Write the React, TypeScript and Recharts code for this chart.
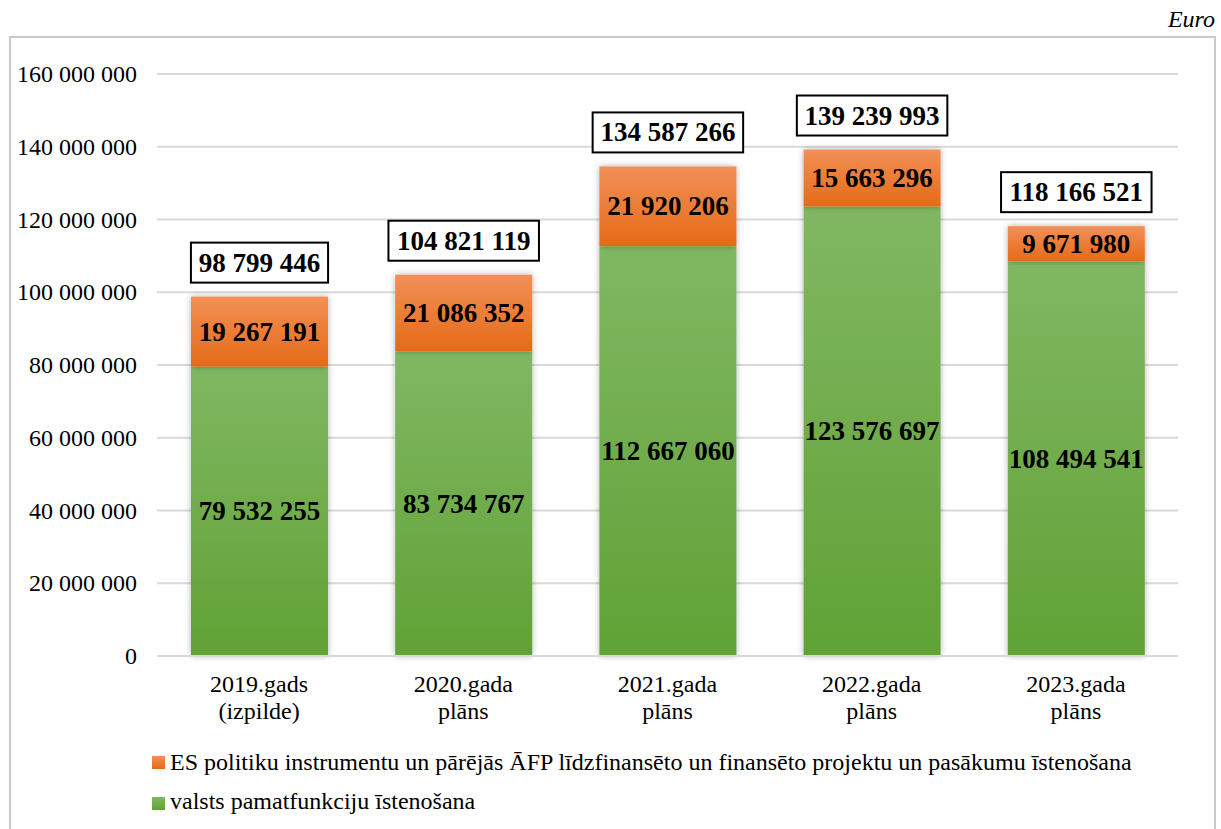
import React from 'react';
import { BarChart, Bar, XAxis, YAxis, CartesianGrid, Legend, LabelList } from 'recharts';

const categories = ['2019.gads\n(izpilde)', '2020.gada\nplāns', '2021.gada\nplāns', '2022.gada\nplāns', '2023.gada\nplāns'];
const coreValues = [79532255, 83734767, 112667060, 123576697, 108494541];
const euValues = [19267191, 21086352, 21920206, 15663296, 9671980];
const totalValues = [98799446, 104821119, 134587266, 139239993, 118166521];
const yTicks = [0, 20000000, 40000000, 60000000, 80000000, 100000000, 120000000, 140000000, 160000000];

const euName = 'ES politiku instrumentu un pārējās ĀFP līdzfinansēto un finansēto projektu un pasākumu īstenošana';
const coreName = 'valsts pamatfunkciju īstenošana';

const data = categories.map((c, i) => ({
  name: c,
  core: coreValues[i],
  eu: euValues[i],
  total: totalValues[i],
}));

const FONT = 'Liberation Serif';
const FS = 24;
const fmt = (n: number) => String(n).replace(/\B(?=(\d{3})+(?!\d))/g, ' ');

const GradBar = (props: any) => {
  const { x, y, width, height, gradId } = props;
  if (!height || height <= 0) return null;
  return <rect x={x} y={y} width={width} height={height} fill={`url(#${gradId})`} filter="url(#barShadow)" />;
};

const CenterLabel = (props: any) => {
  const { x, y, width, height, value } = props;
  return (
    <text x={x + width / 2} y={y + height / 2} textAnchor="middle" dominantBaseline="central"
      fontFamily={FONT} fontWeight="bold" fontSize={27} fill="#000">
      {fmt(value)}
    </text>
  );
};

const TotalLabel = (props: any) => {
  const { x, y, width, value } = props;
  const s = fmt(value);
  let em = 0;
  for (const ch of s) em += ch === ' ' ? 0.25 : 0.5;
  const w = em * 26.7 + 17;
  const cx = x + width / 2;
  const bottom = y - 14;
  return (
    <g>
      <rect x={cx - w / 2} y={bottom - 40} width={w} height={40} fill="#fff" stroke="#000" strokeWidth={2} />
      <text x={cx} y={bottom - 20} textAnchor="middle" dominantBaseline="central"
        fontFamily={FONT} fontWeight="bold" fontSize={27} fill="#000">
        {s}
      </text>
    </g>
  );
};

const CategoryTick = (props: any) => {
  const { x, y, payload } = props;
  const lines = String(payload.value).split('\n');
  return (
    <g>
      {lines.map((l, i) => (
        <text key={i} x={x} y={y + 28 + i * 27} textAnchor="middle" fontFamily={FONT} fontSize={FS} fill="#000">
          {l}
        </text>
      ))}
    </g>
  );
};

const YTick = (props: any) => {
  const { x, y, payload } = props;
  return (
    <text x={x} y={y} textAnchor="end" dominantBaseline="central" fontFamily={FONT} fontSize={FS} fill="#000">
      {fmt(payload.value)}
    </text>
  );
};

const LegendContent = () => (
  <div style={{ position: 'relative', width: 1221, height: 80, fontFamily: FONT, fontSize: FS, lineHeight: '24px', color: '#000' }}>
    <div style={{ position: 'absolute', left: 152, top: 16, width: 13, height: 13, background: 'linear-gradient(#f29057, #e56a17)' }} />
    <div style={{ position: 'absolute', left: 170, top: 10, whiteSpace: 'nowrap' }}>{euName}</div>
    <div style={{ position: 'absolute', left: 152, top: 57, width: 13, height: 13, background: 'linear-gradient(#81b763, #60a235)' }} />
    <div style={{ position: 'absolute', left: 170, top: 49, whiteSpace: 'nowrap' }}>{coreName}</div>
  </div>
);

export default function App() {
  return (
    <div style={{ position: 'absolute', left: 0, top: 0, width: 1221, height: 829, overflow: 'hidden', background: '#fff' }}>
      <div style={{ position: 'absolute', right: 6, top: 6, fontFamily: FONT, fontStyle: 'italic', fontSize: FS }}>Euro</div>
      <div style={{ position: 'absolute', left: 9, top: 36, width: 1203, height: 820, border: '2px solid #c9c9c9' }} />
      <div style={{ position: 'absolute', left: 0, top: 0 }}>
        <BarChart width={1221} height={829} data={data} margin={{ top: 74, right: 43, bottom: 13, left: 0 }}>
          <defs>
            <linearGradient id="coreGrad" x1="0" y1="0" x2="0" y2="1">
              <stop offset="0%" stopColor="#81b763" />
              <stop offset="100%" stopColor="#60a235" />
            </linearGradient>
            <linearGradient id="euGrad" x1="0" y1="0" x2="0" y2="1">
              <stop offset="0%" stopColor="#f29057" />
              <stop offset="100%" stopColor="#e56a17" />
            </linearGradient>
            <filter id="barShadow" x="-20%" y="-10%" width="140%" height="120%">
              <feDropShadow dx="0" dy="0" stdDeviation="3" floodColor="#000" floodOpacity="0.3" />
            </filter>
          </defs>
          <CartesianGrid vertical={false} stroke="#d9d9d9" strokeWidth={2} />
          <XAxis dataKey="name" height={80} interval={0} axisLine={{ stroke: '#d9d9d9', strokeWidth: 2 }}
            tickLine={false} tick={<CategoryTick />} />
          <YAxis width={157} domain={[0, 160000000]} ticks={yTicks} axisLine={false} tickLine={false}
            tickMargin={14} interval={0} tick={<YTick />} />
          <Legend verticalAlign="bottom" content={<LegendContent />}
            wrapperStyle={{ position: 'absolute', left: 0, top: 740, width: 1221, height: 80 }} />
          <Bar dataKey="core" name={coreName} stackId="a" barSize={137} isAnimationActive={false}
            shape={(p: any) => <GradBar {...p} gradId="coreGrad" />}>
            <LabelList dataKey="core" content={<CenterLabel />} />
          </Bar>
          <Bar dataKey="eu" name={euName} stackId="a" barSize={137} isAnimationActive={false}
            shape={(p: any) => <GradBar {...p} gradId="euGrad" />}>
            <LabelList dataKey="eu" content={<CenterLabel />} />
            <LabelList dataKey="total" content={<TotalLabel />} />
          </Bar>
        </BarChart>
      </div>
    </div>
  );
}
